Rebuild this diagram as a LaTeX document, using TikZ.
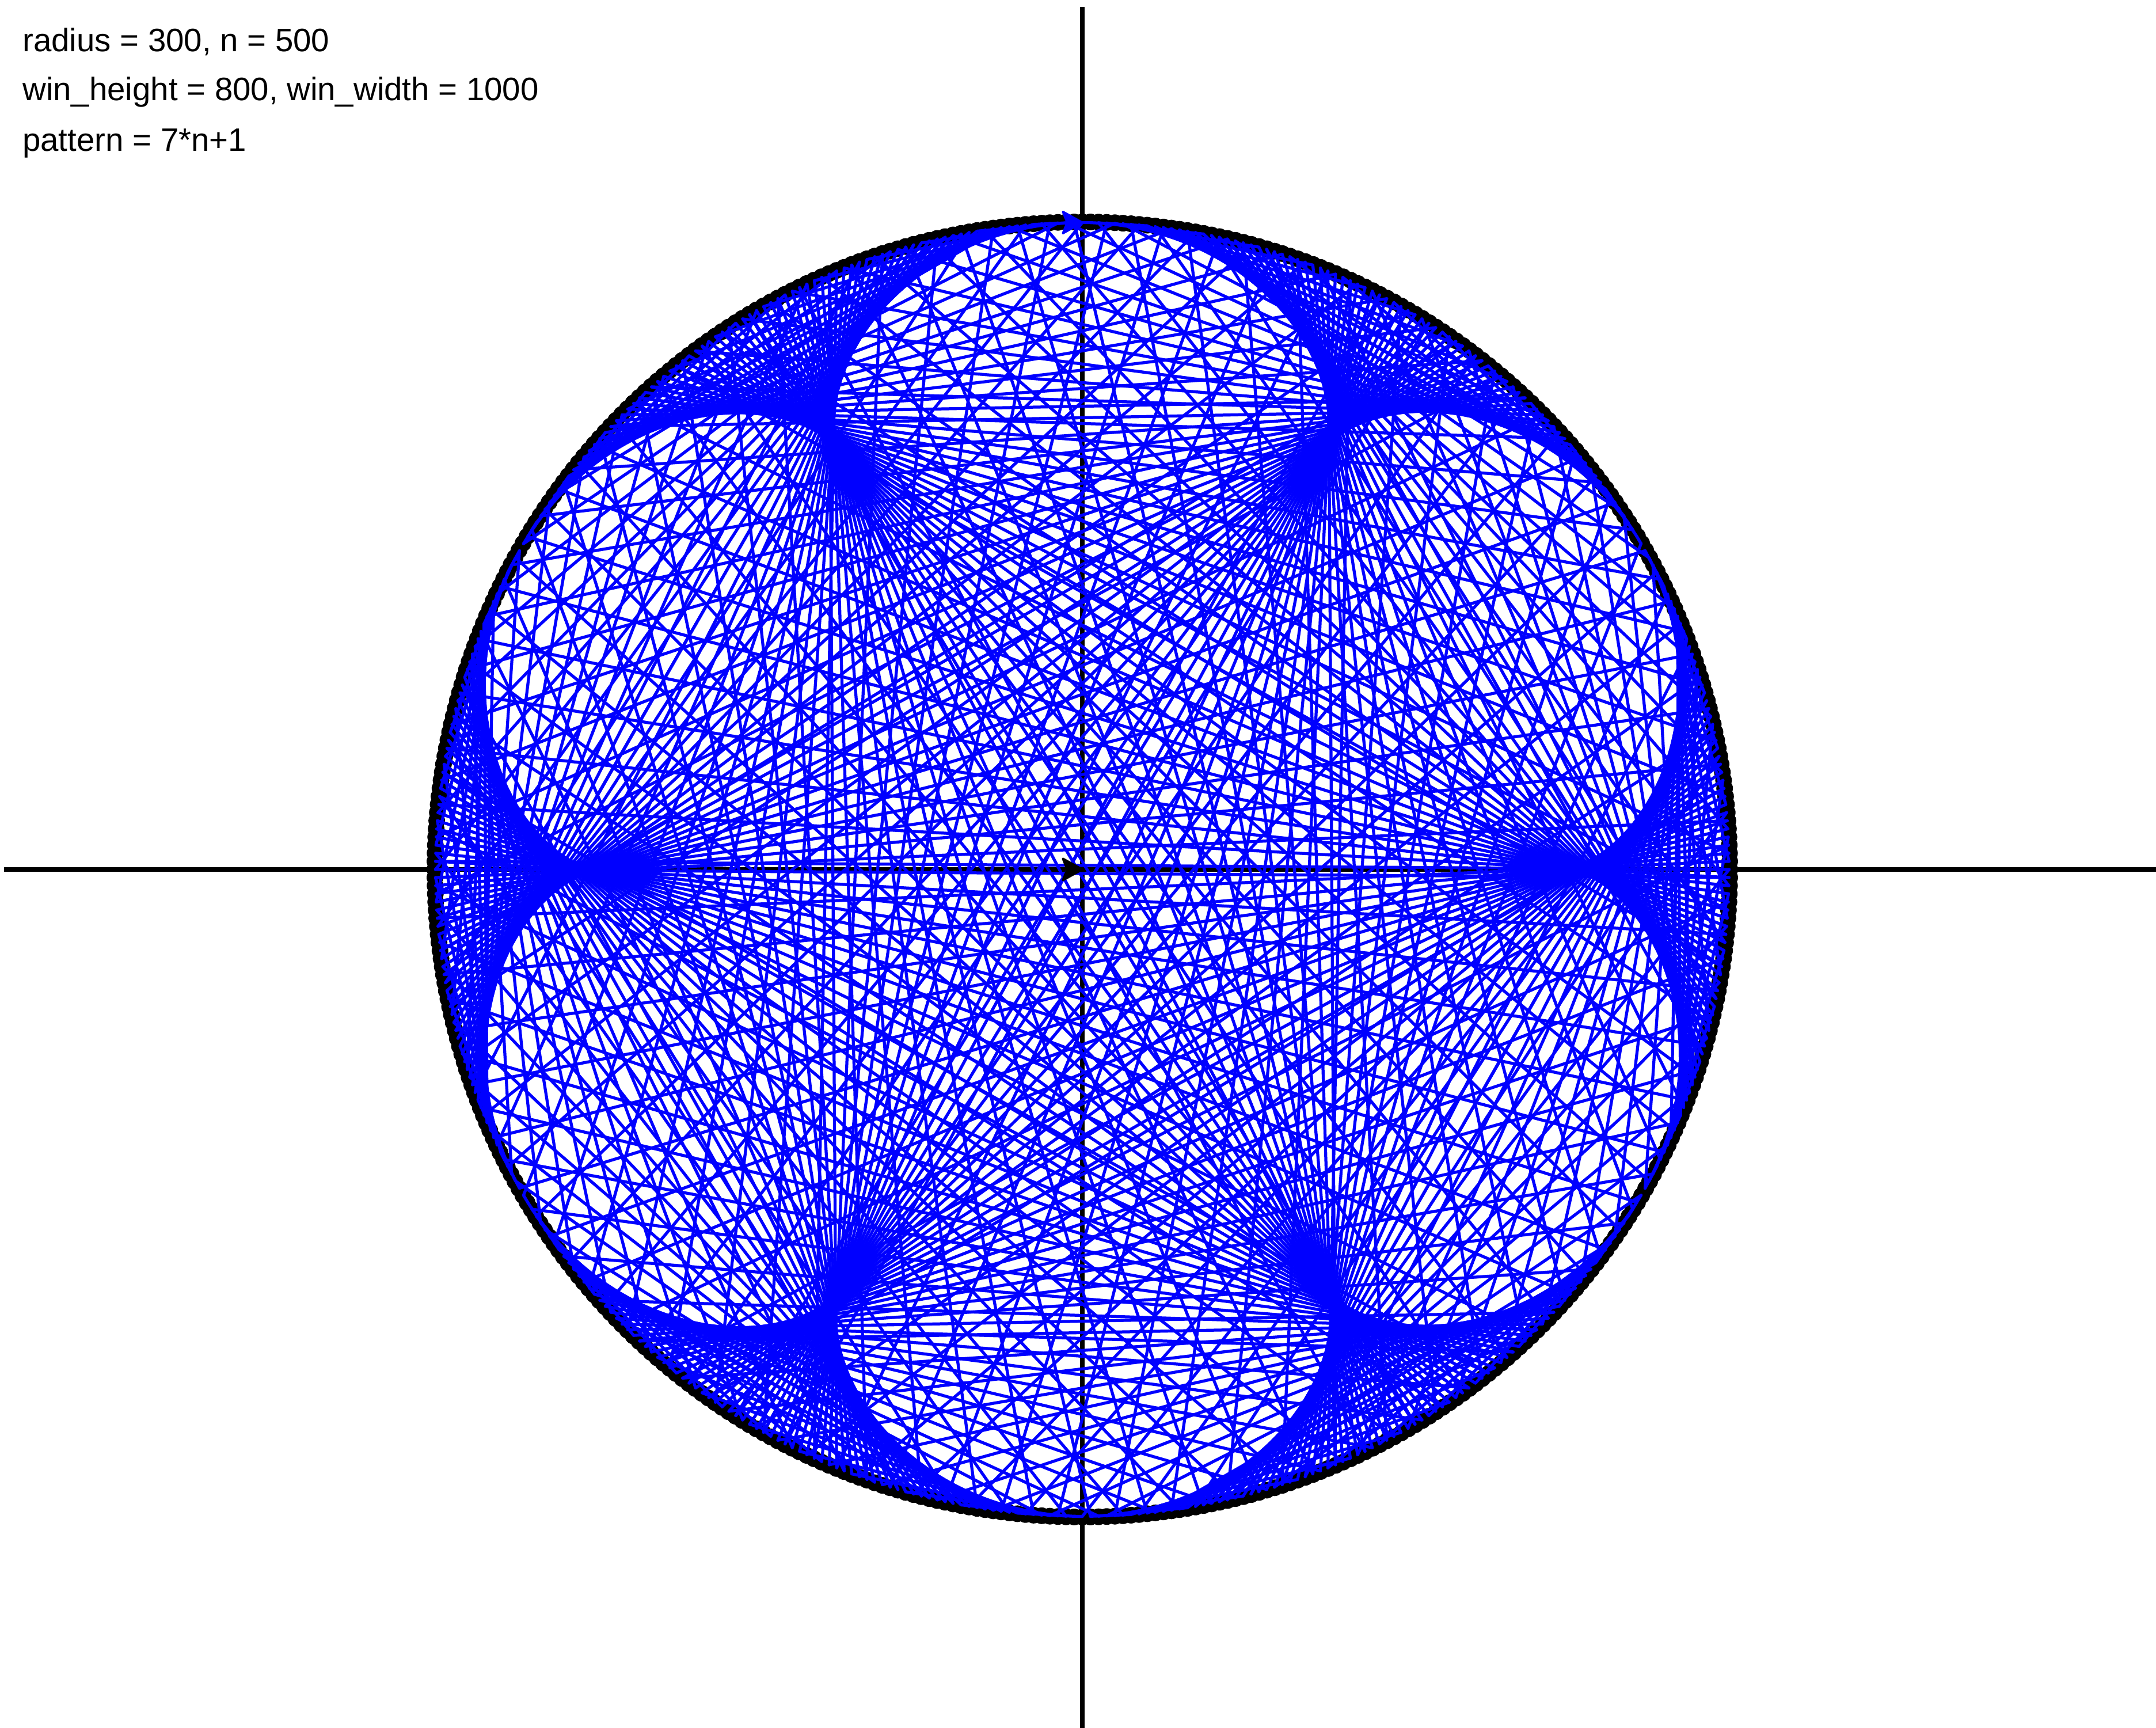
\documentclass[tikz,border=0pt]{standalone}
\usepackage{fontspec}
\newfontfamily\labelfont{Liberation Sans}
\begin{document}
\begin{tikzpicture}[x=0.03cm,y=0.03cm,
  axisline/.style={black, line width=0.06cm},
  chord/.style={blue, line width=0.042cm, line cap=round},
  rimdot/.style={fill=black},
  lbl/.style={anchor=base west, inner sep=0pt, outer sep=0pt,
    font=\labelfont\fontsize{12.85pt}{15pt}\selectfont},
  turtle/.style={line width=0.03cm, line join=round}]
\fill[white] (-502,-397.9) rectangle (498,403.2);
\useasboundingbox (-502,-397.9) rectangle (498,403.2);
% axes
\coordinate (xl) at (-500,0);
\coordinate (xr) at (500,0);
\coordinate (yt) at (0,400);
\coordinate (yb) at (0,-400);
\draw[axisline] (xl) -- (xr);
\draw[axisline] (yt) -- (yb);
% rim dots
\foreach \k in {0,...,499}
  \fill[rimdot] ({90-0.72*\k}:300.3) circle[radius=0.116cm];
% chords k -> 7k+1 (mod 500)
\foreach \k in {0,...,499}{
  \pgfmathtruncatemacro{\j}{mod(7*\k+1,500)}
  \draw[chord] ({90-0.72*\k}:300) -- ({90-0.72*\j}:300);
}
% turtles
\coordinate (bt) at (0,300);
\coordinate (kt) at (0,0);
\filldraw[turtle, blue] (bt) -- ++(-9,5) -- ++(2,-5) -- ++(-2,-5) -- cycle;
\filldraw[turtle, black] (kt) -- ++(-9,5) -- ++(2,-5) -- ++(-2,-5) -- cycle;
% labels
\node[lbl] (t1) at (-491.5,379.4) {radius = 300, n = 500};
\node[lbl] (t2) at (-491.5,356.5) {win\_height = 800, win\_width = 1000};
\node[lbl] (t3) at (-491.5,333.2) {pattern = 7*n+1};
\end{tikzpicture}
\end{document}
